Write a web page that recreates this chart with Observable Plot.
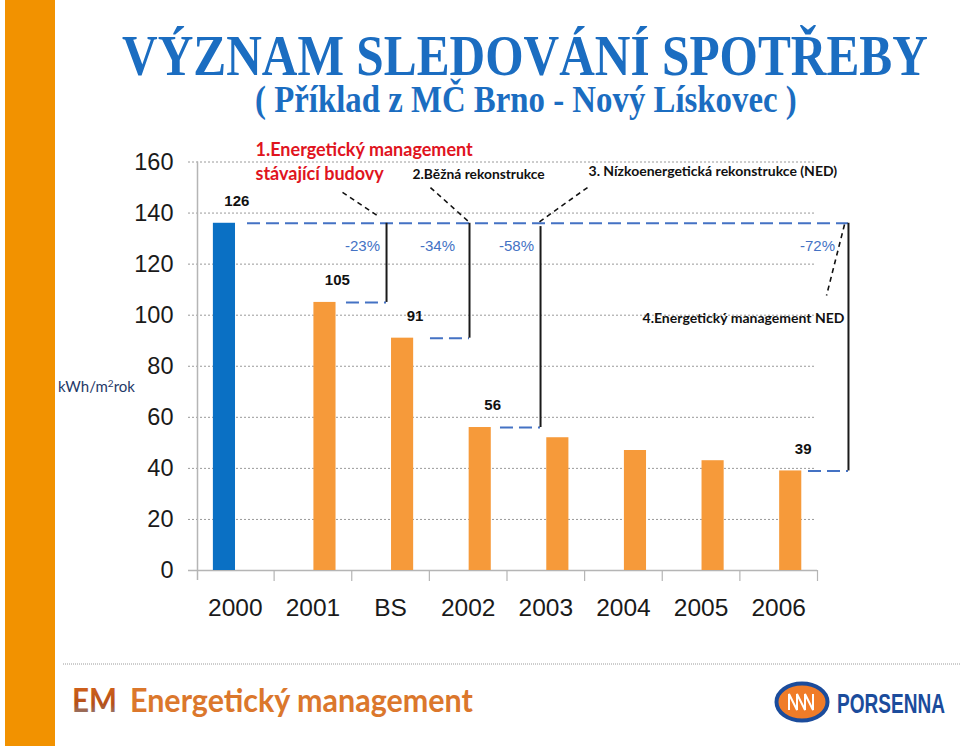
<!DOCTYPE html>
<html>
<head>
<meta charset="utf-8">
<script src="https://cdn.jsdelivr.net/npm/d3@7"></script>
<script src="https://cdn.jsdelivr.net/npm/@observablehq/plot@0.6"></script>
<style>
  body { margin: 0; background: #fff; }
  #page { position: relative; width: 960px; height: 746px; overflow: hidden; background: #fff; font-family: "Liberation Sans", Arial, sans-serif; }
  #strip { position: absolute; left: 5px; top: 0; width: 50px; height: 746px; background: #F29200; }
  #head { position: absolute; left: 0; top: 0; }
  #chart { position: absolute; left: 0; top: 120px; }
  #ylab { position: absolute; left: 58px; top: 377px; font-family: Lato, "Open Sans", sans-serif; font-size: 15px; color: #1F3868; white-space: nowrap; }
  #ylab sup { font-size: 10px; vertical-align: 5px; }
  #foot { position: absolute; left: 0; top: 650px; }
</style>
</head>
<body>
<div id="page">
  <div id="strip"></div>
  <svg id="head" width="960" height="120">
    <text id="t1" x="0" y="0" font-family="'Liberation Serif', 'DejaVu Serif', serif" font-weight="bold" font-size="56" fill="#1B6DC1">VÝZNAM SLEDOVÁNÍ SPOTŘEBY</text>
    <text id="t2" x="0" y="0" font-family="'Liberation Serif', 'DejaVu Serif', serif" font-weight="bold" font-size="37" fill="#1B6DC1">( Příklad z MČ Brno - Nový Lískovec )</text>
  </svg>
  <div id="chart"></div>
  <div id="ylab">kWh/m<sup>2</sup>rok</div>
  <svg id="foot" width="960" height="96">
    <line x1="63" y1="14" x2="960" y2="14" stroke="#9a9a9a" stroke-width="1" stroke-dasharray="1,1"/>
    <defs>
      <linearGradient id="emg" x1="0" y1="0" x2="0" y2="1">
        <stop offset="0" stop-color="#D9661A"/>
        <stop offset="0.6" stop-color="#B5501A"/>
        <stop offset="1" stop-color="#7D8AA0"/>
      </linearGradient>
    </defs>
    <text id="f1" x="0" y="0" font-family="Lato, sans-serif" font-weight="bold" font-size="32" fill="url(#emg)">EM</text>
    <text id="f2" x="0" y="0" font-family="Lato, sans-serif" font-weight="bold" font-size="32" fill="#DB772C">Energetický management</text>
    <ellipse cx="802" cy="52" rx="25.5" ry="18.5" fill="#F07C28" stroke="#1B4C9C" stroke-width="4"/>
    <polyline points="789,60 789,44 797,60 797,44 805,60 805,44 813,60 813,44" fill="none" stroke="#fff" stroke-width="2"/>
    <text id="f3" x="0" y="0" font-family="'Liberation Sans', sans-serif" font-weight="bold" font-size="28" fill="#1B4C9C">PORSENNA</text>
  </svg>
</div>
<script>
// ---- data ----
const categories = ["2000", "2001", "BS", "2002", "2003", "2004", "2005", "2006"];
const values = [136, 105, 91, 56, 52, 47, 43, 39];
const seriesOf = ["before", "after", "after", "after", "after", "after", "after", "after"];
const valueLabels = ["126", "105", "91", "56", "", "", "", "39"];
const yTicks = [0, 20, 40, 60, 80, 100, 120, 140, 160];
const savingsFrom = ["2001", "BS", "2002", "2006"];
const savingsLabels = ["-23%", "-34%", "-58%", "-72%"];
const stepTitles = ["1.Energetický management", "stávající budovy", "2.Běžná rekonstrukce", "3. Nízkoenergetická rekonstrukce (NED)", "4.Energetický management NED"];

// ---- header / footer text fitting (condensed lettering) ----
function fit(id, x, y, w) {
  const t = document.getElementById(id);
  const L = t.getComputedTextLength();
  t.setAttribute("transform", `translate(${x},${y}) scale(${w / L},1)`);
}
fit("t1", 122, 75, 806);
fit("t2", 255, 112, 542);
fit("f1", 72, 62, 45);
fit("f2", 130, 62, 343);
fit("f3", 837, 63, 108);

// ---- layout / styling (not data) ----
const BAR_W = 0.285;
const OFFSET = {before: -0.14, after: 0.155};
const COLORS = {before: "#0A70C4", after: "#F69A3A"};
const BLUE_DASH = "#4472C4";
const refValue = values[0];

const rows = categories.map((c, i) => ({cat: c, i, value: values[i], series: seriesOf[i], label: valueLabels[i]}));
const barCenter = d => d.i + 0.5 + OFFSET[d.series];

// annotation geometry (in category-index units along x)
const bracketGeom = [
  {bx: 2.448, start: 1.932, pctX: 2.139, top: refValue},
  {bx: 3.517, start: 3.014, pctX: 3.105, top: refValue},
  {bx: 4.432, start: 3.916, pctX: 4.122, top: 134.7},
  {bx: 8.399, start: 7.884, pctX: 8.0, top: refValue}
];
const brackets = savingsFrom.map((c, k) => ({
  ...bracketGeom[k],
  value: values[categories.indexOf(c)],
  pct: savingsLabels[k]
}));
const titleGeom = [
  {x: 0.760, y: 162.3, size: 18, fill: "#E0141E"},
  {x: 0.760, y: 153.0, size: 18, fill: "#E0141E"},
  {x: 2.783, y: 153.4, size: 13.8, fill: "#111"},
  {x: 5.050, y: 154.4, size: 14, fill: "#111"},
  {x: 5.746, y: 96.9, size: 14, fill: "#111"}
];
const titles = stepTitles.map((t, k) => ({text: t, ...titleGeom[k]}));
const leaders = [
  {x1: 1.881, y1: 148.1, x2: 2.345, y2: 138.7},
  {x1: 3.014, y1: 150.0, x2: 3.504, y2: 136.7},
  {x1: 5.037, y1: 150.0, x2: 4.406, y2: 136.3},
  {x1: 8.348, y1: 135.5, x2: 8.116, y2: 107.7}
];

const chart = Plot.plot({
  width: 960,
  height: 520,
  marginLeft: 196,
  marginRight: 143,
  marginTop: 41.5,
  marginBottom: 70,
  style: {fontFamily: '"Liberation Sans", Arial, sans-serif', background: "transparent", overflow: "visible"},
  x: {type: "linear", domain: [0, categories.length], axis: null},
  y: {domain: [0, 160], axis: null},
  marks: [
    // gridlines
    Plot.ruleY(yTicks.filter(d => d > 0), {stroke: "#9a9a9a", strokeDasharray: "2,2", strokeWidth: 1, insetLeft: -8, insetRight: 2}),
    // axis lines
    Plot.ruleY([0], {stroke: "#b5b5b5", strokeWidth: 1.5, insetLeft: -8}),
    Plot.ruleX([0], {y1: 160, y2: 0, stroke: "#b5b5b5", strokeWidth: 1.5, insetBottom: -10, dx: 1}),
    // category boundary ticks
    Plot.ruleX(d3.range(categories.length + 1).slice(1), {y1: 0, y2: 0, insetBottom: -11, stroke: "#b5b5b5", strokeWidth: 1.2}),
    // bars
    Plot.rect(rows.filter(d => d.series === "before"), {x1: d => barCenter(d) - BAR_W / 2, x2: d => barCenter(d) + BAR_W / 2, y1: 0, y2: "value", fill: COLORS.before}),
    Plot.rect(rows.filter(d => d.series === "after"), {x1: d => barCenter(d) - BAR_W / 2, x2: d => barCenter(d) + BAR_W / 2, y1: 0, y2: "value", fill: COLORS.after}),
    // axes
    Plot.axisY(yTicks, {tickSize: 0, tickPadding: 23, fontSize: 23.5, fill: "#1a1a1a", label: null}),
    Plot.axisX(categories.map((_, i) => i + 0.5), {tickSize: 0, tickPadding: 28, fontSize: 24.5, fill: "#1a1a1a", label: null, tickFormat: d => categories[Math.floor(d)]}),
    // value labels
    Plot.text(rows.filter(d => d.label), {x: d => barCenter(d) + 0.16, y: "value", dy: -22, text: "label", fontWeight: "bold", fontSize: 15, fill: "#111"}),
    // reference dashed line at the starting level
    Plot.ruleY([refValue], {x1: 0.657, x2: 8.399, stroke: BLUE_DASH, strokeWidth: 2, strokeDasharray: "13,6"}),
    // short dashed lines at the reduced levels
    Plot.ruleY(brackets, {y: "value", x1: "start", x2: "bx", stroke: BLUE_DASH, strokeWidth: 2, strokeDasharray: "13,6"}),
    // vertical brackets
    Plot.ruleX(brackets, {x: "bx", y1: "top", y2: "value", stroke: "#1a1a1a", strokeWidth: 2}),
    // savings percentages
    Plot.text(brackets, {x: "pctX", y: 126.9, text: "pct", fontSize: 15, fill: BLUE_DASH}),
    // leader lines
    Plot.link(leaders, {x1: "x1", y1: "y1", x2: "x2", y2: "y2", stroke: "#111", strokeWidth: 1.6, strokeDasharray: "5,4"}),
    // step titles
    Plot.text(titles, {x: "x", y: "y", text: "text", textAnchor: "start", lineAnchor: "bottom", fontFamily: "Lato, 'Open Sans', sans-serif", fontWeight: "bold", fontSize: d => d.size, fill: d => d.fill})
  ]
});
document.getElementById("chart").appendChild(chart);
</script>
</body>
</html>
